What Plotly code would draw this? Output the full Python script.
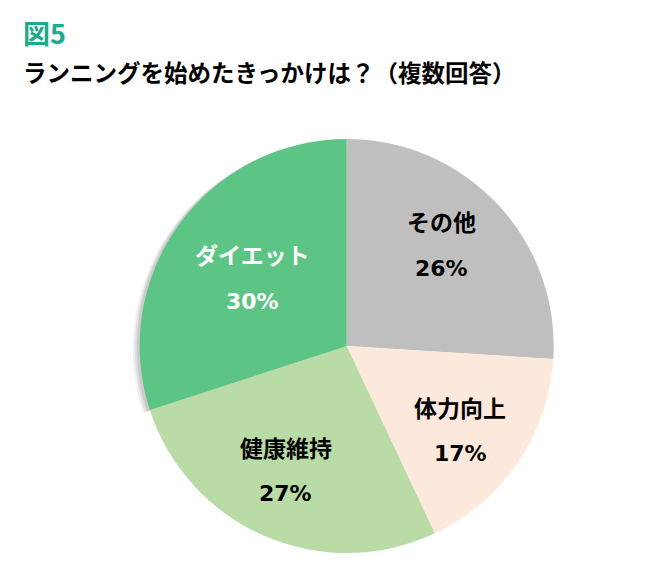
import math
import plotly.graph_objects as go

# data (clockwise from 12 o'clock)
labels = ['その他', '体力向上', '健康維持', 'ダイエット']
values = [26, 17, 27, 30]
colors = ['#bfbfbf', '#fce9db', '#b9dba6', '#5cc485']
text_colors = ['black', 'black', 'black', 'white']
label_r = [0.672, 0.683, 0.669, 0.56]   # label distance, share of radius
label_da = [-3.6, 2.5, 2.6, 0.0]        # small angle nudges (degrees)

W, H = 650, 582
OFF = 8  # page body margin in the browser


def px_x(p):
    return (p - OFF) / W


def px_y(p):
    return 1 - (p - OFF) / H


cx, cy, R = 346.7, 346.0, 207.0

fig = go.Figure()

# soft shadow left of the green slice
for i, (dx, a) in enumerate([(7, 0.05), (5, 0.07), (3, 0.09)]):
    fig.add_trace(go.Pie(
        labels=labels, values=values, sort=False,
        direction='clockwise', rotation=0,
        marker=dict(colors=['rgba(0,0,0,0)'] * 3 + [f'rgba(0,0,0,{a})'], line=dict(width=0)),
        textinfo='none', hoverinfo='skip', showlegend=False,
        domain=dict(x=[px_x(cx - dx - R), px_x(cx - dx + R)],
                    y=[px_y(cy + dx / 2 + R), px_y(cy + dx / 2 - R)]),
    ))

fig.add_trace(go.Pie(
    labels=labels,
    values=values,
    sort=False,
    direction='clockwise',
    rotation=0,
    marker=dict(colors=colors, line=dict(width=0)),
    textinfo='none',
    hoverinfo='label+percent',
    showlegend=False,
    domain=dict(x=[px_x(cx - R), px_x(cx + R)], y=[px_y(cy + R), px_y(cy - R)]),
))

# labels placed near each slice bisector
total = sum(values)
cum = 0
for lab, v, tc, fr, da in zip(labels, values, text_colors, label_r, label_da):
    mid = (cum + v / 2) / total * 2 * math.pi + math.radians(da)
    cum += v
    x = px_x(cx + fr * R * math.sin(mid))
    y = px_y(cy - fr * R * math.cos(mid))
    fig.add_annotation(
        x=x, y=y, xref='paper', yref='paper', yshift=23.5,
        xanchor='center', yanchor='middle', showarrow=False,
        text=f'<b>{lab}</b>',
        font=dict(size=23, color=tc, family='Noto Sans CJK JP'),
    )
    fig.add_annotation(
        x=x, y=y, xref='paper', yref='paper', yshift=-23.5,
        xanchor='center', yanchor='middle', showarrow=False,
        text=f'<b>{round(v / total * 100)}%</b>',
        font=dict(size=22, color=tc, family='DejaVu Sans'),
    )

fig.add_annotation(
    x=px_x(21), y=px_y(33), xref='paper', yref='paper',
    xanchor='left', yanchor='middle', showarrow=False,
    text='<b>図5</b>',
    font=dict(size=27, color='#1aab8a', family='Noto Sans CJK JP'),
)
fig.add_annotation(
    x=px_x(21), y=px_y(72), xref='paper', yref='paper',
    xanchor='left', yanchor='middle', showarrow=False,
    text='<b>ランニングを始めたきっかけは？（複数回答）</b>',
    font=dict(size=23.5, color='black', family='Noto Sans CJK JP'),
)

fig.update_layout(
    width=W, height=H,
    margin=dict(l=0, r=0, t=0, b=0),
    paper_bgcolor='white',
    plot_bgcolor='white',
)

fig.write_html('out.html')
